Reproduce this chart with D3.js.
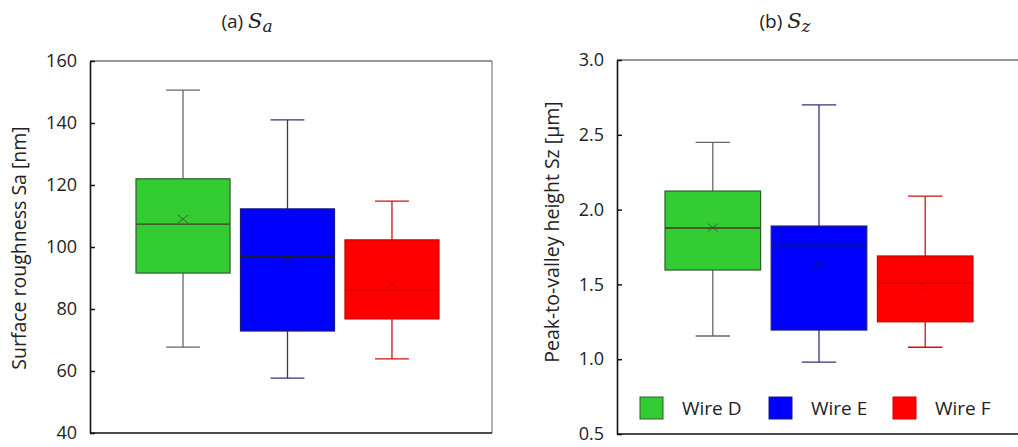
<!DOCTYPE html>
<html>
<head>
<meta charset="utf-8">
<script src="https://cdn.jsdelivr.net/npm/d3@7"></script>
<style>
  body { margin: 0; background: #fff; }
  svg text { font-family: "Open Sans", "Noto Sans", sans-serif; fill: #222; }
</style>
</head>
<body>
<svg id="chart" width="1018" height="447"></svg>
<script>
// data
var categories = ["Wire D", "Wire E", "Wire F"];

// Sa [nm]: min, q1, median, q3, max, mean
var saMin    = [67.7, 57.7, 63.9];
var saQ1     = [91.6, 72.9, 76.8];
var saMedian = [107.4, 97.0, 86.1];
var saQ3     = [122.0, 112.3, 102.3];
var saMax    = [150.6, 141.0, 114.8];
var saMean   = [109.0, 95.5, 88.0];

// Sz [um]
var szMin    = [1.155, 0.98, 1.08];
var szQ1     = [1.596, 1.195, 1.25];
var szMedian = [1.877, 1.76, 1.51];
var szQ3     = [2.124, 1.89, 1.69];
var szMax    = [2.45, 2.70, 2.09];
var szMean   = [1.88, 1.63, 1.48];

var saTicks = [40, 60, 80, 100, 120, 140, 160];
var szTicks = [0.5, 1.0, 1.5, 2.0, 2.5, 3.0];

// styles per wire
var fills    = ["#33cc33", "#0000ff", "#ff0000"];
var strokes  = ["#2c5e2c", "#1a1a80", "#cc0000"];
var whiskerC = ["#666666", "#33337a", "#d01010"];
var medianC  = ["#4a3a2a", "#1a1a3a", "#d40000"];

var svg = d3.select("#chart");

function buildPanel(opt) {
    var width = opt.right - opt.left,
        height = opt.bottom - opt.top;

    var g = svg.append("g")
        .attr("transform", "translate(" + opt.left + "," + opt.top + ")");

    var x = d3.scaleBand()
        .domain(categories)
        .range(opt.bandRange)
        .paddingInner(0.1)
        .paddingOuter(0);
    var y = d3.scaleLinear()
        .domain(opt.domain)
        .range([height, 0]);

    // frame (top and right)
    g.append("line")
        .attr("x1", 0).attr("x2", width)
        .attr("y1", 0).attr("y2", 0)
        .attr("stroke", "#333").attr("stroke-width", 1);
    g.append("line")
        .attr("x1", width).attr("x2", width)
        .attr("y1", 0).attr("y2", height)
        .attr("stroke", "#666").attr("stroke-width", 1);

    // boxes
    var data = categories.map(function (c, i) {
        return {cat: c, i: i, min: opt.min[i], q1: opt.q1[i], med: opt.med[i],
            q3: opt.q3[i], max: opt.max[i], mean: opt.mean[i]};
    });

    var box = g.selectAll(".box")
        .data(data)
        .enter().append("g")
        .attr("class", "box");

    var bw = x.bandwidth();
    var capW = bw * 0.36;

    // whiskers
    box.append("line")
        .attr("x1", function (d) { return x(d.cat) + bw / 2; })
        .attr("x2", function (d) { return x(d.cat) + bw / 2; })
        .attr("y1", function (d) { return y(d.max); })
        .attr("y2", function (d) { return y(d.q3); })
        .attr("stroke", function (d) { return whiskerC[d.i]; })
        .attr("stroke-width", 1.3);
    box.append("line")
        .attr("x1", function (d) { return x(d.cat) + bw / 2; })
        .attr("x2", function (d) { return x(d.cat) + bw / 2; })
        .attr("y1", function (d) { return y(d.q1); })
        .attr("y2", function (d) { return y(d.min); })
        .attr("stroke", function (d) { return whiskerC[d.i]; })
        .attr("stroke-width", 1.3);
    box.append("line")
        .attr("x1", function (d) { return x(d.cat) + bw / 2 - capW / 2; })
        .attr("x2", function (d) { return x(d.cat) + bw / 2 + capW / 2; })
        .attr("y1", function (d) { return y(d.max); })
        .attr("y2", function (d) { return y(d.max); })
        .attr("stroke", function (d) { return whiskerC[d.i]; })
        .attr("stroke-width", 1.3);
    box.append("line")
        .attr("x1", function (d) { return x(d.cat) + bw / 2 - capW / 2; })
        .attr("x2", function (d) { return x(d.cat) + bw / 2 + capW / 2; })
        .attr("y1", function (d) { return y(d.min); })
        .attr("y2", function (d) { return y(d.min); })
        .attr("stroke", function (d) { return whiskerC[d.i]; })
        .attr("stroke-width", 1.3);

    // box body
    box.append("rect")
        .attr("x", function (d) { return x(d.cat); })
        .attr("width", bw)
        .attr("y", function (d) { return y(d.q3); })
        .attr("height", function (d) { return y(d.q1) - y(d.q3); })
        .attr("fill", function (d) { return fills[d.i]; })
        .attr("stroke", function (d) { return strokes[d.i]; })
        .attr("stroke-width", 1.2);

    // median
    box.append("line")
        .attr("x1", function (d) { return x(d.cat); })
        .attr("x2", function (d) { return x(d.cat) + bw; })
        .attr("y1", function (d) { return y(d.med); })
        .attr("y2", function (d) { return y(d.med); })
        .attr("stroke", function (d) { return medianC[d.i]; })
        .attr("stroke-width", 1.3);

    // mean marker (x)
    var s = 5;
    box.append("path")
        .attr("d", function (d) {
            var cx = x(d.cat) + bw / 2, cy = y(d.mean);
            return "M" + (cx - s) + "," + (cy - s * 0.8) + "L" + (cx + s) + "," + (cy + s * 0.8) +
                "M" + (cx - s) + "," + (cy + s * 0.8) + "L" + (cx + s) + "," + (cy - s * 0.8);
        })
        .attr("stroke", function (d) { return medianC[d.i]; })
        .attr("stroke-width", 1)
        .attr("fill", "none")
        .attr("opacity", 0.7);

    // y axis
    var yAxis = g.append("g")
        .call(d3.axisLeft(y)
            .tickValues(opt.ticks)
            .tickFormat(opt.format)
            .tickSizeInner(-5)
            .tickSizeOuter(0)
            .tickPadding(13));
    yAxis.select(".domain").attr("stroke", "#111").attr("stroke-width", 1.6);
    yAxis.selectAll(".tick line").attr("stroke", "#111").attr("stroke-width", 1.5);
    yAxis.selectAll(".tick text")
        .style("font-size", "18px")
        .style("font-family", "'Open Sans', sans-serif")
        .attr("fill", "#333");

    // bottom axis line
    g.append("line")
        .attr("x1", 0).attr("x2", width)
        .attr("y1", height).attr("y2", height)
        .attr("stroke", "#111").attr("stroke-width", 1.6);

    // y label
    svg.append("text")
        .attr("transform", "translate(" + opt.labelX + "," + opt.labelY + ") rotate(-90)")
        .attr("text-anchor", "middle")
        .style("font-size", "19.5px")
        .attr("fill", "#333")
        .text(opt.ylabel);

    // title
    var t = svg.append("text")
        .attr("x", opt.titleX)
        .attr("y", 28)
        .attr("text-anchor", "middle")
        .style("font-size", "19px");
    t.append("tspan").text(opt.titlePre + " ");
    t.append("tspan")
        .style("font-family", "'DejaVu Serif', serif")
        .style("font-style", "italic")
        .style("font-size", "21px")
        .text("S");
    t.append("tspan")
        .attr("dy", 4)
        .style("font-family", "'DejaVu Serif', serif")
        .style("font-style", "italic")
        .style("font-size", "17px")
        .text(opt.sub);

    return {g: g, x: x, y: y, width: width, height: height};
}

var pa = buildPanel({
    left: 90, right: 492, top: 61, bottom: 433,
    bandRange: [46, 349],
    domain: [40, 160], ticks: saTicks, format: d3.format("d"),
    min: saMin, q1: saQ1, med: saMedian, q3: saQ3, max: saMax, mean: saMean,
    ylabel: "Surface roughness Sa [nm]", labelX: 26, labelY: 248,
    titleX: 247, titlePre: "(a)", sub: "a"
});

var pb = buildPanel({
    left: 617, right: 1022, top: 60, bottom: 434,
    bandRange: [48, 356],
    domain: [0.5, 3.0], ticks: szTicks, format: d3.format(".1f"),
    min: szMin, q1: szQ1, med: szMedian, q3: szQ3, max: szMax, mean: szMean,
    ylabel: "Peak-to-valley height Sz [\u00b5m]", labelX: 559, labelY: 232,
    titleX: 785, titlePre: "(b)", sub: "z"
});

// legend inside panel b
var legendX = [23, 152, 276];
var legend = pb.g.selectAll(".legend")
    .data(categories)
    .enter().append("g")
    .attr("class", "legend")
    .attr("transform", function (d, i) { return "translate(" + legendX[i] + "," + 337 + ")"; });
legend.append("rect")
    .attr("width", 23)
    .attr("height", 22)
    .attr("fill", function (d, i) { return fills[i]; })
    .attr("stroke", function (d, i) { return strokes[i]; })
    .attr("stroke-width", 1);
legend.append("text")
    .attr("x", 42)
    .attr("y", 11)
    .attr("dominant-baseline", "central")
    .style("font-size", "19px")
    .attr("fill", "#222")
    .text(function (d) { return d; });
</script>
</body>
</html>
